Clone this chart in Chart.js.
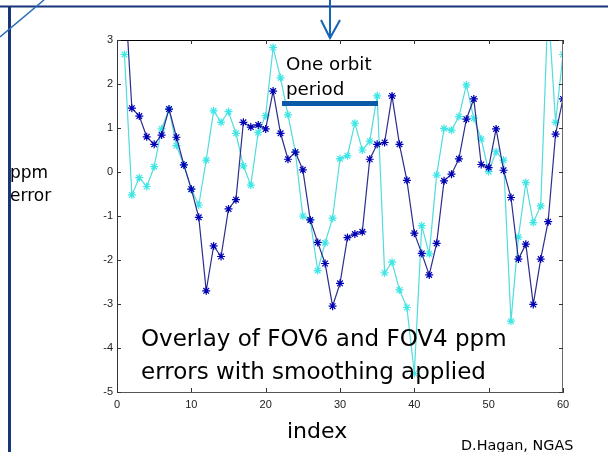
<!DOCTYPE html>
<html><head><meta charset="utf-8">
<script src="https://cdn.jsdelivr.net/npm/chart.js@4"></script>
<style>
html,body{margin:0;padding:0;background:#fff;}
#wrap{position:relative;width:608px;height:452px;overflow:hidden;background:#fff;}
canvas{position:absolute;left:0;top:0;}
.t{position:absolute;white-space:nowrap;font-family:"DejaVu Sans",sans-serif;color:#000;}
</style></head><body>
<div id="wrap">
<canvas id="c" width="608" height="452"></canvas>
<div class="t" style="left:286px;top:52px;font-size:18.3px;line-height:24.5px;">One orbit<br>period</div>
<div class="t" style="left:10px;top:161px;font-size:17px;line-height:23px;">ppm<br>error</div>
<div class="t" style="left:141px;top:322px;font-size:23px;line-height:33px;">Overlay of FOV6 and FOV4 ppm<br>errors with smoothing applied</div>
<div class="t" style="left:287px;top:418px;font-size:22px;line-height:26px;">index</div>
<div class="t" style="left:461px;top:436px;font-size:14.4px;line-height:18px;">D.Hagan, NGAS</div>
</div>
<script>
// sample index (x) values
const indexValues = [1,2,3,4,5,6,7,8,9,10,11,12,13,14,15,16,17,18,19,20,21,22,23,24,25,26,27,28,29,30,
  31,32,33,34,35,36,37,38,39,40,41,42,43,44,45,46,47,48,49,50,51,52,53,54,55,56,57,58,59,60];
// dark blue series (ppm error, smoothed)
const fovDark = [4.3,1.45,1.27,0.80,0.63,0.84,1.43,0.79,0.16,-0.39,-1.03,-2.70,-1.68,-1.92,-0.84,-0.63,1.13,1.02,1.07,0.98,
  1.84,0.88,0.29,0.45,0.05,-1.09,-1.6,-2.08,-3.05,-2.53,-1.49,-1.41,-1.36,0.29,0.63,0.67,1.73,0.63,-0.19,-1.39,
  -1.85,-2.34,-1.62,-0.20,-0.05,0.30,1.20,1.66,0.17,0.10,0.98,0.04,-0.58,-1.98,-1.64,-3.01,-1.98,-1.13,0.86,1.66];
// cyan series (ppm error, smoothed)
const fovCyan = [2.67,-0.52,-0.13,-0.33,0.12,0.98,1.43,0.60,0.16,-0.39,-0.75,0.27,1.39,1.13,1.37,0.88,0.14,-0.30,0.90,1.28,
  2.83,2.14,1.3,0.45,-1.0,-1.09,-2.24,-1.61,-1.05,0.30,0.37,1.11,0.50,0.70,1.73,-2.29,-2.05,-2.68,-3.08,-4.58,
  -1.22,-1.86,-0.07,0.99,0.95,1.26,1.98,1.22,0.75,0.01,0.46,0.27,-3.39,-1.48,-0.24,-1.15,-0.77,3.8,1.13,2.67];
// axis ticks
const xTicks = [0,10,20,30,40,50,60];
const yTicks = [-5,-4,-3,-2,-1,0,1,2,3];

const pts = vals => indexValues.map((x,i)=>({x:x, y:vals[i]}));

const slidePlugin = {
  id:'slide',
  afterDraw(chart){
    const {ctx, chartArea:a, scales:{x,y}} = chart;
    ctx.save();
    // axes box
    ctx.lineWidth = 1;
    ctx.strokeStyle = '#000';
    ctx.beginPath(); ctx.moveTo(a.left, a.top+0.5); ctx.lineTo(a.right, a.top+0.5); ctx.stroke();
    ctx.strokeStyle = '#6a6a6a';
    ctx.beginPath(); ctx.moveTo(a.right-0.5, a.top); ctx.lineTo(a.right-0.5, a.bottom); ctx.stroke();
    // inward ticks
    ctx.strokeStyle = '#333';
    xTicks.forEach(v=>{
      const px = Math.round(x.getPixelForValue(v))+0.5;
      ctx.beginPath(); ctx.moveTo(px, a.bottom); ctx.lineTo(px, a.bottom-4); ctx.stroke();
      ctx.beginPath(); ctx.moveTo(px, a.top); ctx.lineTo(px, a.top+4); ctx.stroke();
    });
    yTicks.forEach(v=>{
      const py = Math.round(y.getPixelForValue(v))+0.5;
      ctx.beginPath(); ctx.moveTo(a.left, py); ctx.lineTo(a.left+4, py); ctx.stroke();
      ctx.beginPath(); ctx.moveTo(a.right, py); ctx.lineTo(a.right-4, py); ctx.stroke();
    });
    // slide decorations
    ctx.strokeStyle = '#17357a';
    ctx.lineWidth = 2;
    ctx.beginPath(); ctx.moveTo(0, 6.5); ctx.lineTo(608, 6.5); ctx.stroke();
    ctx.lineWidth = 3;
    ctx.beginPath(); ctx.moveTo(9.5, 6); ctx.lineTo(9.5, 452); ctx.stroke();
    ctx.strokeStyle = '#2a6bb5';
    ctx.lineWidth = 1.5;
    ctx.beginPath(); ctx.moveTo(0, 37); ctx.lineTo(44, 0); ctx.stroke();
    // arrow
    ctx.strokeStyle = '#1463b4';
    ctx.lineWidth = 2;
    ctx.beginPath(); ctx.moveTo(330, 0); ctx.lineTo(330, 38); ctx.stroke();
    ctx.beginPath(); ctx.moveTo(321, 20); ctx.lineTo(330, 38); ctx.lineTo(340, 20); ctx.stroke();
    // orbit period bar
    ctx.fillStyle = '#0b5aa8';
    ctx.fillRect(282, 101, 96, 5);
    ctx.restore();
  }
};

new Chart(document.getElementById('c'), {
  type:'line',
  data:{
    datasets:[
      {data:pts(fovDark), borderColor:'#2c2c8e', borderWidth:1.2, pointStyle:'star', pointRadius:4,
       pointBorderColor:'#0000b4', pointBorderWidth:1.2, pointBackgroundColor:'#0000b4', tension:0, fill:false, order:0},
      {data:pts(fovCyan), borderColor:'#52dcdc', borderWidth:1.2, pointStyle:'star', pointRadius:4,
       pointBorderColor:'#3ee6e6', pointBorderWidth:1.2, pointBackgroundColor:'#3ee6e6', tension:0, fill:false, order:1}
    ]
  },
  options:{
    responsive:false, animation:false, devicePixelRatio:1,
    layout:{padding:{left:0, top:40, right:45, bottom:30}},
    plugins:{legend:{display:false}, tooltip:{enabled:false}},
    scales:{
      x:{type:'linear', min:0, max:60,
         afterBuildTicks(s){ s.ticks = xTicks.map(v=>({value:v})); },
         afterFit(s){ s.height = 30; },
         grid:{display:false, drawTicks:false, tickLength:0}, border:{display:true, color:'#555', width:1},
         ticks:{padding:6, color:'#222', font:{family:'"Liberation Sans", sans-serif', size:11}}},
      y:{type:'linear', min:-5, max:3,
         afterBuildTicks(s){ s.ticks = yTicks.map(v=>({value:v})); },
         afterFit(s){ s.width = 117; },
         grid:{display:false, drawTicks:false, tickLength:0}, border:{display:true, color:'#333', width:1},
         ticks:{padding:4, color:'#222', font:{family:'"Liberation Sans", sans-serif', size:11}}}
    }
  },
  plugins:[slidePlugin]
});
</script>
</body></html>
